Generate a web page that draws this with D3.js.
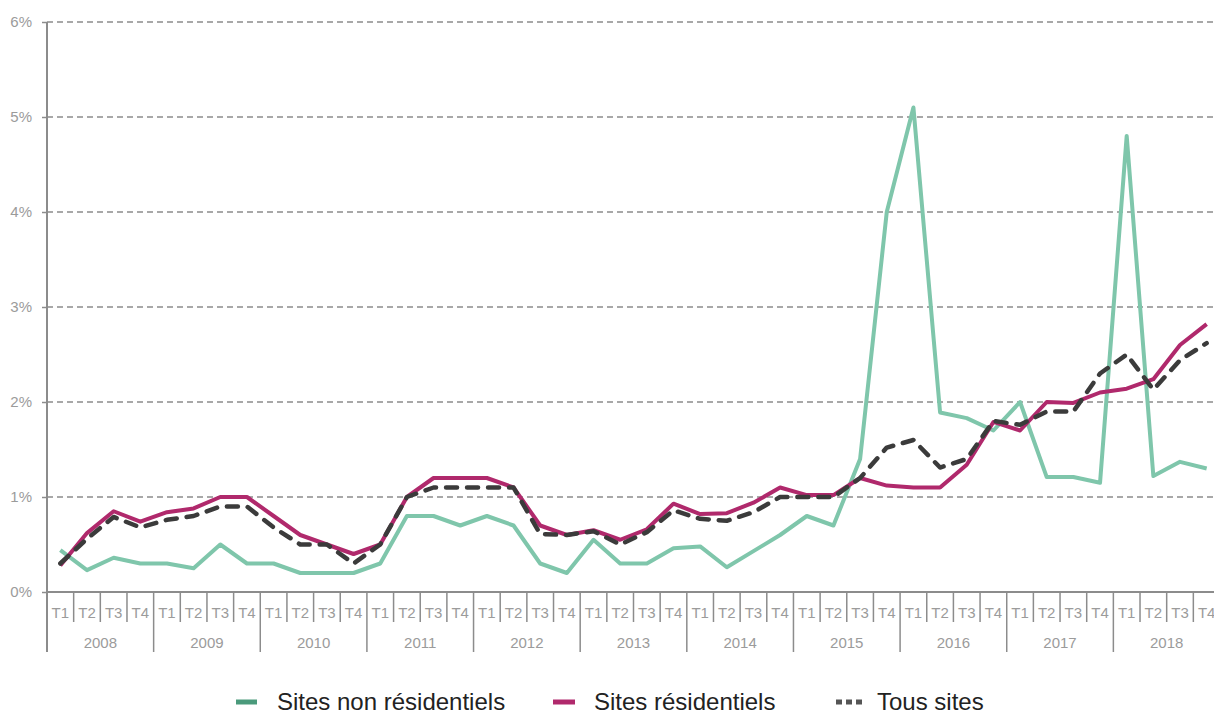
<!DOCTYPE html>
<html>
<head>
<meta charset="utf-8">
<script src="https://cdn.jsdelivr.net/npm/d3@7"></script>
<style>
  body { margin: 0; background: #fff; }
  svg { display: block; font-family: "Liberation Sans", Arial, sans-serif; }
</style>
</head>
<body>
<svg id="chart" width="1214" height="713"></svg>
<script>
// data, in % per quarter
const years = ['2008', '2009', '2010', '2011', '2012', '2013', '2014', '2015', '2016', '2017', '2018'];
const quarters = ['T1', 'T2', 'T3', 'T4'];
const yTicks = [0, 1, 2, 3, 4, 5, 6];

const nonResidentiels = [
    0.44, 0.23, 0.36, 0.30,
    0.30, 0.25, 0.50, 0.30,
    0.30, 0.20, 0.20, 0.20,
    0.30, 0.80, 0.80, 0.70,
    0.80, 0.70, 0.30, 0.20,
    0.55, 0.30, 0.30, 0.46,
    0.48, 0.26, 0.43, 0.60,
    0.80, 0.70, 1.40, 4.00,
    5.10, 1.89, 1.83, 1.70,
    2.00, 1.21, 1.21, 1.15,
    4.80, 1.22, 1.37, 1.30
];
const residentiels = [
    0.28, 0.62, 0.85, 0.74,
    0.84, 0.88, 1.00, 1.00,
    0.80, 0.60, 0.50, 0.40,
    0.50, 1.00, 1.20, 1.20,
    1.20, 1.10, 0.70, 0.60,
    0.65, 0.55, 0.66, 0.93,
    0.82, 0.83, 0.94, 1.10,
    1.02, 1.02, 1.20, 1.12,
    1.10, 1.10, 1.34, 1.79,
    1.70, 2.00, 1.99, 2.10,
    2.14, 2.24, 2.60, 2.82
];
const tousSites = [
    0.30, 0.56, 0.79, 0.68,
    0.76, 0.80, 0.90, 0.90,
    0.68, 0.50, 0.50, 0.30,
    0.50, 1.00, 1.10, 1.10,
    1.10, 1.10, 0.61, 0.60,
    0.64, 0.50, 0.63, 0.86,
    0.77, 0.75, 0.84, 1.00,
    1.00, 1.00, 1.20, 1.52,
    1.60, 1.31, 1.40, 1.80,
    1.76, 1.90, 1.90, 2.30,
    2.50, 2.13, 2.44, 2.62
];

const series = [
    {name: 'Sites non résidentiels', values: nonResidentiels, color: '#7fc6ab', legendColor: '#4a9a7b', dash: null},
    {name: 'Sites résidentiels', values: residentiels, color: '#b0296c', legendColor: '#b0296c', dash: null},
    {name: 'Tous sites', values: tousSites, color: '#3b3b3b', legendColor: '#555555', dash: '11,10'}
];

const svg = d3.select('#chart');
const axisColor = '#8c8c8c';
const textColor = '#9b9b9b';

const periods = [];
years.forEach(y => quarters.forEach(q => periods.push(y + q)));

const x = d3.scaleBand().domain(periods).range([47, 1220]).padding(0);
const y = d3.scaleLinear().domain([0, 6]).range([592, 22]);
const xc = p => x(p) + x.bandwidth() / 2;

// gridlines
svg.append('g')
    .selectAll('line')
    .data(yTicks.filter(d => d > 0))
    .join('line')
    .attr('x1', 47).attr('x2', 1214)
    .attr('y1', d => y(d)).attr('y2', d => y(d))
    .attr('stroke', axisColor)
    .attr('stroke-width', 1.5)
    .attr('stroke-dasharray', '6,4');

// y axis
const yAxis = svg.append('g')
    .attr('transform', 'translate(47,0)')
    .call(d3.axisLeft(y).tickValues(yTicks).tickFormat(d => d + '%').tickSize(5).tickPadding(10));
yAxis.select('.domain').remove();
yAxis.selectAll('.tick line').attr('stroke', axisColor).attr('stroke-width', 1.5);
yAxis.selectAll('.tick text')
    .attr('fill', textColor)
    .attr('font-size', 15)
    .attr('font-family', '"Liberation Sans", Arial, sans-serif');

svg.append('line')
    .attr('x1', 47).attr('x2', 47)
    .attr('y1', y(6)).attr('y2', 652)
    .attr('stroke', axisColor).attr('stroke-width', 2);

// x axis baseline
svg.append('line')
    .attr('x1', 47).attr('x2', 1214)
    .attr('y1', y(0)).attr('y2', y(0))
    .attr('stroke', axisColor).attr('stroke-width', 2);

// quarter separators and labels
const xg = svg.append('g');
periods.forEach((p, i) => {
    if (i > 0) {
        const isYear = i % 4 === 0;
        xg.append('line')
            .attr('x1', x(p)).attr('x2', x(p))
            .attr('y1', y(0)).attr('y2', isYear ? 652 : 622)
            .attr('stroke', axisColor).attr('stroke-width', 1.5);
    }
    xg.append('text')
        .attr('x', xc(p))
        .attr('y', 612)
        .attr('text-anchor', 'middle')
        .attr('dominant-baseline', 'central')
        .attr('fill', textColor)
        .attr('font-size', 15)
        .text(p.slice(4));
});
years.forEach(yr => {
    const x0 = x(yr + 'T1');
    const x1 = x(yr + 'T4') + x.bandwidth();
    xg.append('text')
        .attr('x', (x0 + x1) / 2)
        .attr('y', 642)
        .attr('text-anchor', 'middle')
        .attr('dominant-baseline', 'central')
        .attr('fill', textColor)
        .attr('font-size', 15)
        .text(yr);
});

// lines
const line = d3.line()
    .x((d, i) => xc(periods[i]))
    .y(d => y(d));

series.forEach(s => {
    svg.append('path')
        .datum(s.values)
        .attr('d', line)
        .attr('fill', 'none')
        .attr('stroke', s.color)
        .attr('stroke-width', s.dash ? 4.5 : 4)
        .attr('stroke-linejoin', 'round')
        .attr('stroke-linecap', s.dash ? 'round' : 'butt')
        .attr('stroke-dasharray', s.dash);
});

// legend
const legendItems = [
    {x: 236, w: 21, textX: 277},
    {x: 553, w: 22, textX: 594},
    {x: 836, w: 26, textX: 877}
];
series.forEach((s, i) => {
    const li = legendItems[i];
    svg.append('line')
        .attr('x1', li.x).attr('x2', li.x + li.w)
        .attr('y1', 702).attr('y2', 702)
        .attr('stroke', s.legendColor)
        .attr('stroke-width', 5)
        .attr('stroke-dasharray', s.dash ? '6,4' : null);
    svg.append('text')
        .attr('x', li.textX)
        .attr('y', 701)
        .attr('dominant-baseline', 'central')
        .attr('font-size', 24)
        .attr('fill', '#222')
        .text(s.name);
});
</script>
</body>
</html>
